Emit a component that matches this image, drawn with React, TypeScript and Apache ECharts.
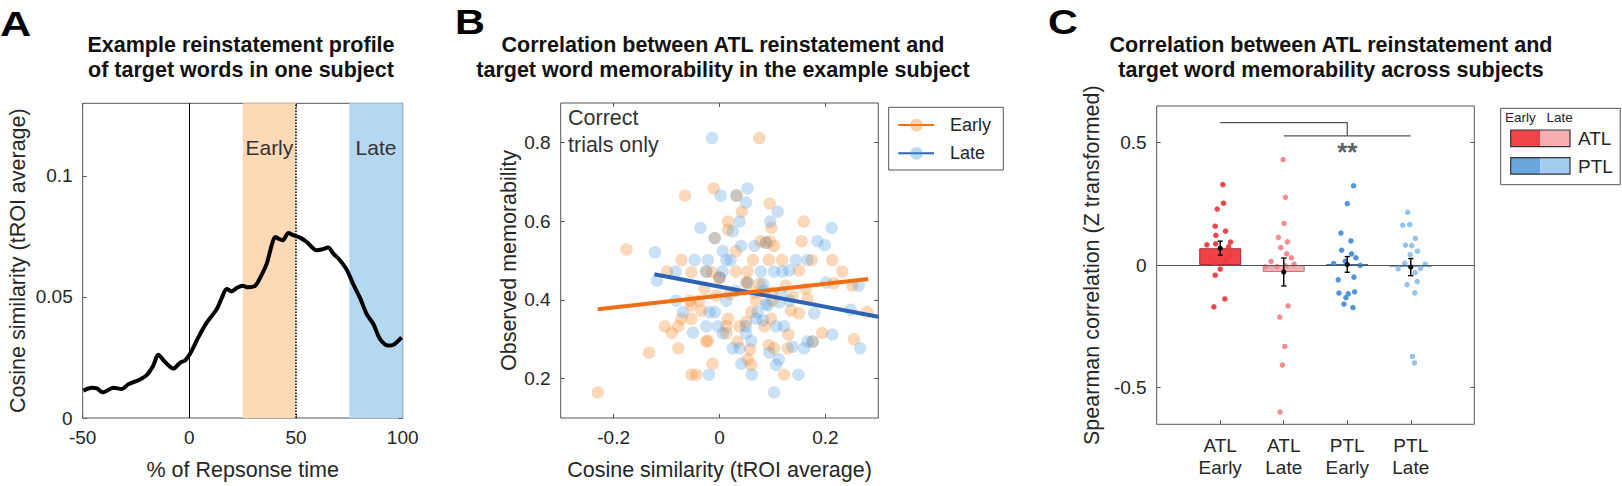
import React, { useEffect, useRef } from "react";
import * as echarts from "echarts";

const FONT = "'Liberation Sans', Arial, Helvetica, sans-serif";
const TICK_COLOR = "#262626";
const AXIS_COLOR = "#555";

// ---------------- Panel A : reinstatement profile ----------------
const profileX = [-49.7, -45.8, -43.4, -40.6, -35.6, -31.7, -28.6, -23.9, -20, -16.9, -14.6, -11.4, -7.5, -4.4, -2.0, 0.3, 4.2, 8.1, 12.8, 15.2, 17.5, 19.8, 22.2, 25, 27.6, 30.8, 33.1, 36.3, 38.6, 40.2, 41.7, 43.8, 46.4, 48.7, 51.9, 55.0, 59.7, 62.0, 65.1, 67.5, 70.6, 73.8, 76.9, 80.0, 83.2, 86.3, 89.4, 93.3, 95.6, 99.5];
const profileY = [0.0113, 0.0125, 0.0122, 0.0106, 0.0125, 0.012, 0.0139, 0.0156, 0.0177, 0.0217, 0.0261, 0.0231, 0.0204, 0.0228, 0.0238, 0.0265, 0.0333, 0.0394, 0.0449, 0.0496, 0.0533, 0.0523, 0.0537, 0.0546, 0.054, 0.0546, 0.0578, 0.0639, 0.0714, 0.0748, 0.0741, 0.0734, 0.0764, 0.0755, 0.0745, 0.0727, 0.0693, 0.0696, 0.0704, 0.0679, 0.0652, 0.0612, 0.0551, 0.0496, 0.0428, 0.0387, 0.0326, 0.0299, 0.0302, 0.0333];
const windowEarly = [25, 50];
const windowLate = [75, 100];
const aXTicks = [-50, 0, 50, 100];
const aYTicks = [0, 0.05, 0.1];

// ---------------- Panel B : single-subject scatter ----------------
const earlyTrials = [
  [0.075, 0.811], [-0.011, 0.683], [-0.065, 0.665], [0.033, 0.665], [0.095, 0.645], [0.042, 0.624],
  [0.016, 0.599], [0.159, 0.599], [0.098, 0.583], [0.016, 0.578], [0.078, 0.549], [0.095, 0.549],
  [0.155, 0.549], [-0.176, 0.528], [0.103, 0.537], [0.088, 0.545], [-0.009, 0.557], [0.031, 0.524],
  [-0.072, 0.501], [0.063, 0.501], [0.093, 0.501], [0.118, 0.501], [0.174, 0.501], [0.213, 0.501],
  [-0.099, 0.472], [-0.053, 0.47], [-0.014, 0.47], [0.031, 0.472], [0.053, 0.472], [0.15, 0.475],
  [0.232, 0.472], [0.0, 0.455], [0.05, 0.444], [0.075, 0.44], [0.216, 0.442], [0.251, 0.436],
  [0.125, 0.436], [0.163, 0.428], [-0.028, 0.428], [0.019, 0.415], [-0.006, 0.411], [0.066, 0.419],
  [0.1, 0.419], [0.138, 0.408], [0.166, 0.403], [-0.056, 0.398], [-0.039, 0.398], [0.069, 0.398],
  [0.1, 0.398], [-0.053, 0.386], [-0.034, 0.373], [0.06, 0.369], [0.135, 0.373], [0.15, 0.366],
  [0.279, 0.369], [-0.072, 0.352], [-0.053, 0.352], [0.016, 0.352], [0.05, 0.344], [0.097, 0.352],
  [0.085, 0.333], [-0.103, 0.333], [-0.09, 0.316], [-0.078, 0.333], [0.013, 0.333], [0.038, 0.333],
  [0.13, 0.312], [0.194, 0.316], [0.254, 0.3], [-0.022, 0.296], [0.013, 0.315], [-0.133, 0.266],
  [-0.078, 0.277], [-0.025, 0.294], [0.034, 0.294], [0.093, 0.285], [0.103, 0.277], [0.129, 0.277],
  [0.058, 0.274], [-0.013, 0.238], [0.053, 0.249], [0.06, 0.235], [-0.053, 0.21], [-0.044, 0.21],
  [0.122, 0.21], [-0.23, 0.165], [-0.025, 0.472], [0.0, 0.457], [0.053, 0.444], [0.176, 0.294],
];
const lateTrials = [
  [-0.014, 0.811], [0.053, 0.683], [0.002, 0.665], [0.031, 0.665], [0.05, 0.647], [0.11, 0.624],
  [0.038, 0.599], [0.096, 0.599], [-0.036, 0.583], [0.212, 0.583], [0.025, 0.574], [0.185, 0.549],
  [0.199, 0.539], [-0.122, 0.521], [0.006, 0.524], [0.041, 0.537], [0.066, 0.537], [-0.047, 0.501],
  [-0.022, 0.501], [0.013, 0.501], [0.021, 0.501], [0.144, 0.501], [0.166, 0.501], [-0.009, 0.557],
  [0.088, 0.545], [-0.083, 0.472], [-0.025, 0.472], [0.006, 0.472], [0.078, 0.472], [0.103, 0.472],
  [0.119, 0.472], [0.132, 0.475], [-0.118, 0.449], [0.201, 0.444], [0.263, 0.436], [0.0, 0.457],
  [0.053, 0.444], [0.082, 0.44], [0.031, 0.423], [0.085, 0.423], [0.116, 0.419], [-0.082, 0.398],
  [0.013, 0.398], [0.088, 0.39], [0.113, 0.394], [0.132, 0.398], [-0.069, 0.369], [-0.019, 0.369],
  [-0.009, 0.369], [0.072, 0.369], [0.091, 0.386], [0.179, 0.366], [0.248, 0.375], [0.069, 0.352],
  [0.082, 0.348], [-0.05, 0.317], [-0.025, 0.333], [-0.003, 0.333], [0.05, 0.333], [0.107, 0.333],
  [0.122, 0.333], [0.213, 0.312], [0.006, 0.315], [0.05, 0.315], [0.025, 0.277], [0.038, 0.277],
  [0.06, 0.296], [0.094, 0.266], [0.138, 0.281], [0.16, 0.277], [0.166, 0.294], [0.176, 0.294],
  [0.266, 0.277], [0.041, 0.238], [0.107, 0.235], [0.112, 0.249], [-0.02, 0.21], [0.061, 0.21],
  [0.149, 0.21], [0.103, 0.165],
];
const earlyFit = [[-0.23, 0.376], [0.281, 0.453]];
const lateFit = [[-0.123, 0.465], [0.3, 0.357]];
const bXTicks = [-0.2, 0, 0.2];
const bYTicks = [0.2, 0.4, 0.6, 0.8];

// ---------------- Panel C : across subjects ----------------
const conditionLabels = ["ATL\nEarly", "ATL\nLate", "PTL\nEarly", "PTL\nLate"];
const conditionMeans = [0.069, -0.028, 0.003, -0.008];
const conditionSEM = [0.029, 0.057, 0.032, 0.035];
// [horizontal jitter around the condition, subject value]
const subjATLEarly = [[0.042, 0.329], [0.052, 0.253], [-0.047, 0.229], [-0.079, 0.159], [0.084, 0.139], [-0.068, 0.122], [0.163, 0.094], [-0.21, 0.083], [-0.073, 0.087], [0.131, 0.075], [-0.157, 0.033], [0.157, 0.037], [0.079, 0.019], [-0.094, 0.008], [0, -0.016], [-0.079, -0.041], [0.073, -0.138], [-0.1, -0.17]];
const subjATLLate = [[-0.01, 0.431], [0.026, 0.277], [0.005, 0.171], [-0.084, 0.113], [0.058, 0.095], [-0.047, 0.072], [0.047, 0.046], [-0.2, 0.015], [0.121, 0.03], [-0.105, -0.006], [0.026, -0.003], [0.163, 0.004], [-0.289, -0.007], [0.068, -0.166], [-0.063, -0.212], [0.016, -0.332], [-0.021, -0.408], [-0.058, -0.6]];
const subjPTLEarly = [[0.1, 0.324], [0, 0.251], [-0.1, 0.131], [0.058, 0.099], [-0.089, 0.061], [0.068, 0.046], [0.136, 0.03], [-0.031, 0.016], [-0.215, 0.007], [0.205, -0.001], [-0.142, -0.06], [0.105, -0.049], [-0.131, -0.114], [0.016, -0.117], [0.115, -0.109], [-0.021, -0.133], [-0.052, -0.159], [0.089, -0.173]];
const subjPTLLate = [[-0.047, 0.216], [-0.126, 0.163], [-0.016, 0.166], [0.073, 0.109], [-0.084, 0.082], [0.016, 0.08], [0.105, 0.057], [-0.01, 0.043], [-0.094, 0.008], [0.226, 0.004], [-0.2, -0.015], [0.152, -0.014], [0.068, -0.031], [-0.058, -0.08], [0.1, -0.067], [0.063, -0.113], [0.026, -0.373], [0.058, -0.399]];
const cYTicks = [-0.5, 0, 0.5];
const sigUpper = [[1, 0.582], [3, 0.582], [3, 0.528]];
const sigLower = [[2, 0.528], [4, 0.528]];
const sigStars = [[3, 0.462]];

const barFill = ["#ef4348", "#f6aeb1", "#5b9bd8", "#9ecbf0"];
const barEdge = ["#a8282d", "#a08a8b", "#2f5f8f", "#6f9fc8"];
const dotColor = ["#eb3b41", "#f2868b", "#4a8fd8", "#8cc1ec"];

const fmt = (v: number) => String(+Number(v).toFixed(3));

function bottomX(gridIndex: number, min: number, max: number, ticks: number[], name: string, extra: any = {}) {
  return {
    type: "value", gridIndex, min, max, position: "bottom",
    name, nameLocation: "middle", nameGap: 41,
    nameTextStyle: { fontSize: 21.5, color: TICK_COLOR, fontFamily: FONT },
    axisLine: { show: false, onZero: false }, splitLine: { show: false },
    axisTick: { inside: true, length: 4, customValues: ticks, lineStyle: { color: AXIS_COLOR } },
    axisLabel: { customValues: ticks, formatter: fmt, fontSize: 19, color: TICK_COLOR, fontFamily: FONT, margin: 10 },
    ...extra,
  };
}
function leftY(gridIndex: number, min: number, max: number, ticks: number[], name: string, gap: number) {
  return {
    type: "value", gridIndex, min, max, position: "left",
    name, nameLocation: "middle", nameGap: gap,
    nameTextStyle: { fontSize: 21.5, color: TICK_COLOR, fontFamily: FONT },
    axisLine: { show: false, onZero: false }, splitLine: { show: false },
    axisTick: { inside: true, length: 4, customValues: ticks, lineStyle: { color: AXIS_COLOR } },
    axisLabel: { customValues: ticks, formatter: fmt, fontSize: 19, color: TICK_COLOR, fontFamily: FONT, margin: 10 },
  };
}
function mirrorAxis(kind: "x" | "y", gridIndex: number, min: number, max: number, ticks: number[]) {
  return {
    type: "value", gridIndex, min, max, position: kind === "x" ? "top" : "right",
    axisLine: { show: false, onZero: false }, splitLine: { show: false },
    axisTick: { show: ticks.length > 0, inside: true, length: 4, customValues: ticks, lineStyle: { color: AXIS_COLOR } },
    axisLabel: { show: false, customValues: ticks },
  };
}

function buildOption() {
  const gridStyle = { show: true, borderColor: AXIS_COLOR, borderWidth: 1, backgroundColor: "transparent" };
  const subjects = [subjATLEarly, subjATLLate, subjPTLEarly, subjPTLLate];

  const series: any[] = [
    // ---- A
    {
      type: "line", xAxisIndex: 0, yAxisIndex: 0, z: 3,
      data: profileX.map((x, i) => [x, profileY[i]]),
      showSymbol: false, symbol: "none", smooth: 0.3,
      lineStyle: { width: 4, color: "#000" },
      markArea: {
        silent: true,
        label: { show: true, position: "insideTop", distance: 34, fontSize: 21, color: "#333", fontFamily: FONT },
        data: [
          [{ name: "Early", xAxis: windowEarly[0], itemStyle: { color: "#fdd9b6" } }, { xAxis: windowEarly[1] }],
          [{ name: "Late", xAxis: windowLate[0], itemStyle: { color: "#b5d8f2" } }, { xAxis: windowLate[1] }],
        ],
      },
      markLine: {
        silent: true, symbol: ["none", "none"], label: { show: false },
        data: [
          { xAxis: 0, lineStyle: { color: "#000", width: 1, type: "solid" } },
          { xAxis: 50, lineStyle: { color: "#000", width: 1.5, type: "dotted" } },
        ],
      },
    },
    // ---- B
    { type: "scatter", xAxisIndex: 2, yAxisIndex: 2, z: 2, data: earlyTrials, symbolSize: 12.5, itemStyle: { color: "rgba(247,140,50,0.42)" } },
    { type: "scatter", xAxisIndex: 2, yAxisIndex: 2, z: 2, data: lateTrials, symbolSize: 12.5, itemStyle: { color: "rgba(70,150,220,0.36)" } },
    { type: "line", xAxisIndex: 2, yAxisIndex: 2, z: 4, data: lateFit, symbol: "none", lineStyle: { width: 4, color: "#2b64b4" } },
    { type: "line", xAxisIndex: 2, yAxisIndex: 2, z: 5, data: earlyFit, symbol: "none", lineStyle: { width: 4, color: "#f06e14" } },
    // ---- C
    {
      type: "bar", xAxisIndex: 4, yAxisIndex: 4, z: 2, barWidth: 42,
      data: conditionMeans.map((m, i) => ({ value: [i + 1, m], itemStyle: { color: barFill[i], borderColor: barEdge[i], borderWidth: 1 } })),
      markLine: {
        silent: true, symbol: ["none", "none"], label: { show: false },
        lineStyle: { color: "#555", width: 1, type: "solid" },
        data: [{ yAxis: 0 }],
      },
    },
    ...subjects.map((pts, i) => ({
      type: "scatter", xAxisIndex: 4, yAxisIndex: 4, z: 3, symbolSize: 5.5,
      data: pts.map(([j, v]) => [i + 1 + j, v]),
      itemStyle: { color: dotColor[i], opacity: 0.95 },
    })),
    {
      type: "custom", xAxisIndex: 4, yAxisIndex: 4, z: 6,
      encode: { x: 0, y: 1 },
      data: conditionMeans.map((m, i) => [i + 1, m, conditionSEM[i]]),
      renderItem: (params: any, api: any) => {
        const x = api.value(0), m = api.value(1), e = api.value(2);
        const hi = api.coord([x, m + e]);
        const lo = api.coord([x, m - e]);
        const mid = api.coord([x, m]);
        const cap = 2.6;
        const st = { stroke: "#000", lineWidth: 1.4 };
        return {
          type: "group",
          children: [
            { type: "line", shape: { x1: hi[0], y1: hi[1], x2: lo[0], y2: lo[1] }, style: st },
            { type: "line", shape: { x1: hi[0] - cap, y1: hi[1], x2: hi[0] + cap, y2: hi[1] }, style: st },
            { type: "line", shape: { x1: lo[0] - cap, y1: lo[1], x2: lo[0] + cap, y2: lo[1] }, style: st },
            { type: "circle", shape: { cx: mid[0], cy: mid[1], r: 2.6 }, style: { fill: "#000" } },
          ],
        };
      },
    },
    { type: "line", xAxisIndex: 4, yAxisIndex: 4, z: 5, data: sigUpper, symbol: "none", lineStyle: { width: 1.3, color: "#555" } },
    { type: "line", xAxisIndex: 4, yAxisIndex: 4, z: 5, data: sigLower, symbol: "none", lineStyle: { width: 1.3, color: "#555" } },
    {
      type: "scatter", xAxisIndex: 4, yAxisIndex: 4, z: 5, data: sigStars, symbolSize: 1,
      itemStyle: { color: "transparent" },
      label: { show: true, position: "inside", formatter: "**", fontSize: 26, fontWeight: "bold", color: "#333", fontFamily: FONT },
    },
  ];

  const txt = (text: string, x: number, y: number, size: number, extra: any = {}) => ({
    type: "text", x, y, silent: true,
    style: { text, fontSize: size, fontFamily: FONT, fill: TICK_COLOR, textAlign: "left", textVerticalAlign: "middle", ...extra },
  });

  const graphic: any[] = [
    // panel letters
    { type: "text", x: 0, y: 23, scaleX: 1.2, style: { text: "A", fontSize: 36, fontWeight: "bold", fontFamily: FONT, fill: "#000", textVerticalAlign: "middle" } },
    { type: "text", x: 455, y: 21, scaleX: 1.15, style: { text: "B", fontSize: 36, fontWeight: "bold", fontFamily: FONT, fill: "#000", textVerticalAlign: "middle" } },
    { type: "text", x: 1048, y: 21, scaleX: 1.15, style: { text: "C", fontSize: 36, fontWeight: "bold", fontFamily: FONT, fill: "#000", textVerticalAlign: "middle" } },
    // titles
    txt("Example reinstatement profile\nof target words in one subject", 241, 32.5, 21.5, { fontWeight: "bold", fill: "#111", textAlign: "center", textVerticalAlign: "top", lineHeight: 25 }),
    txt("Correlation between ATL reinstatement and\ntarget word memorability in the example subject", 723, 32.5, 21.5, { fontWeight: "bold", fill: "#111", textAlign: "center", textVerticalAlign: "top", lineHeight: 25 }),
    txt("Correlation between ATL reinstatement and\ntarget word memorability across subjects", 1331, 32.5, 21.5, { fontWeight: "bold", fill: "#111", textAlign: "center", textVerticalAlign: "top", lineHeight: 25 }),
    // panel B annotation
    txt("Correct\ntrials only", 568, 104.5, 21.5, { textVerticalAlign: "top", lineHeight: 27, fill: "#333" }),
    // panel B legend
    { type: "rect", shape: { x: 888.7, y: 107.3, width: 114.6, height: 62.7 }, style: { fill: "#fff", stroke: AXIS_COLOR, lineWidth: 1 } },
    { type: "line", shape: { x1: 898.3, y1: 125, x2: 934, y2: 125 }, style: { stroke: "#f06e14", lineWidth: 2 } },
    { type: "circle", shape: { cx: 916.5, cy: 125, r: 6.3 }, style: { fill: "rgba(247,140,50,0.42)" } },
    txt("Early", 950, 125, 18),
    { type: "line", shape: { x1: 898.3, y1: 153.3, x2: 934, y2: 153.3 }, style: { stroke: "#2b64b4", lineWidth: 2 } },
    { type: "circle", shape: { cx: 916.5, cy: 153.3, r: 6.3 }, style: { fill: "rgba(70,150,220,0.36)" } },
    txt("Late", 950, 153.3, 18),
    // panel C legend
    { type: "rect", shape: { x: 1500.7, y: 108.3, width: 119.5, height: 76.4 }, style: { fill: "#fff", stroke: AXIS_COLOR, lineWidth: 1 } },
    txt("Early", 1505, 117, 13.5),
    txt("Late", 1546.5, 117, 13.5),
    { type: "rect", shape: { x: 1510.7, y: 130, width: 29.5, height: 16.7 }, style: { fill: barFill[0] } },
    { type: "rect", shape: { x: 1540.2, y: 130, width: 29.8, height: 16.7 }, style: { fill: barFill[1] } },
    { type: "rect", shape: { x: 1510.7, y: 130, width: 59.3, height: 16.7 }, style: { fill: "none", stroke: "#333", lineWidth: 1.2 } },
    txt("ATL", 1578, 138.3, 19),
    { type: "rect", shape: { x: 1510.7, y: 157.7, width: 29.5, height: 16.5 }, style: { fill: "#6aa6dd" } },
    { type: "rect", shape: { x: 1540.2, y: 157.7, width: 29.8, height: 16.5 }, style: { fill: "#a2cdf0" } },
    { type: "rect", shape: { x: 1510.7, y: 157.7, width: 59.3, height: 16.5 }, style: { fill: "none", stroke: "#333", lineWidth: 1.2 } },
    txt("PTL", 1578, 166, 19),
  ];

  return {
    animation: false,
    backgroundColor: "#fff",
    textStyle: { fontFamily: FONT },
    grid: [
      { left: 82.7, top: 103.3, width: 320, height: 320, ...gridStyle },
      { left: 560.7, top: 103, width: 317.6, height: 317.6, ...gridStyle },
      { left: 1156.7, top: 106, width: 317.6, height: 318.3, ...gridStyle },
    ],
    xAxis: [
      bottomX(0, -50, 100, aXTicks, "% of Repsonse time"),
      mirrorAxis("x", 0, -50, 100, aXTicks),
      bottomX(1, -0.3, 0.3, bXTicks, "Cosine similarity (tROI average)"),
      mirrorAxis("x", 1, -0.3, 0.3, bXTicks),
      bottomX(2, 0, 5, [1, 2, 3, 4], "", {
        axisLabel: {
          customValues: [1, 2, 3, 4], formatter: (v: number) => conditionLabels[Math.round(v) - 1] || "",
          fontSize: 19, color: TICK_COLOR, fontFamily: FONT, margin: 10, lineHeight: 22,
        },
      }),
      mirrorAxis("x", 2, 0, 5, []),
    ],
    yAxis: [
      leftY(0, 0, 0.13, aYTicks, "Cosine similarity (tROI average)", 54),
      mirrorAxis("y", 0, 0, 0.13, aYTicks),
      leftY(1, 0.1, 0.9, bYTicks, "Observed memorability", 40),
      mirrorAxis("y", 1, 0.1, 0.9, bYTicks),
      leftY(2, -0.65, 0.65, cYTicks, "Spearman correlation (Z transformed)", 54),
      mirrorAxis("y", 2, -0.65, 0.65, cYTicks),
    ],
    visualMap: [{
      type: "piecewise", show: false, seriesIndex: 0, dimension: 0,
      pieces: [
        { lt: windowEarly[0], color: "#000" },
        { gte: windowEarly[0], lte: windowEarly[1], color: "#3a2413" },
        { gt: windowEarly[1], color: "#000" },
      ],
    }],
    series,
    graphic,
  };
}

export default function App() {
  const ref = useRef<HTMLDivElement>(null);
  useEffect(() => {
    if (!ref.current) return;
    const chart = echarts.init(ref.current, undefined, { renderer: "svg" });
    chart.setOption(buildOption() as any);
    return () => chart.dispose();
  }, []);
  return (
    <div
      ref={ref}
      style={{ position: "fixed", left: 0, top: 0, width: 1622, height: 486, background: "#fff" }}
    />
  );
}
